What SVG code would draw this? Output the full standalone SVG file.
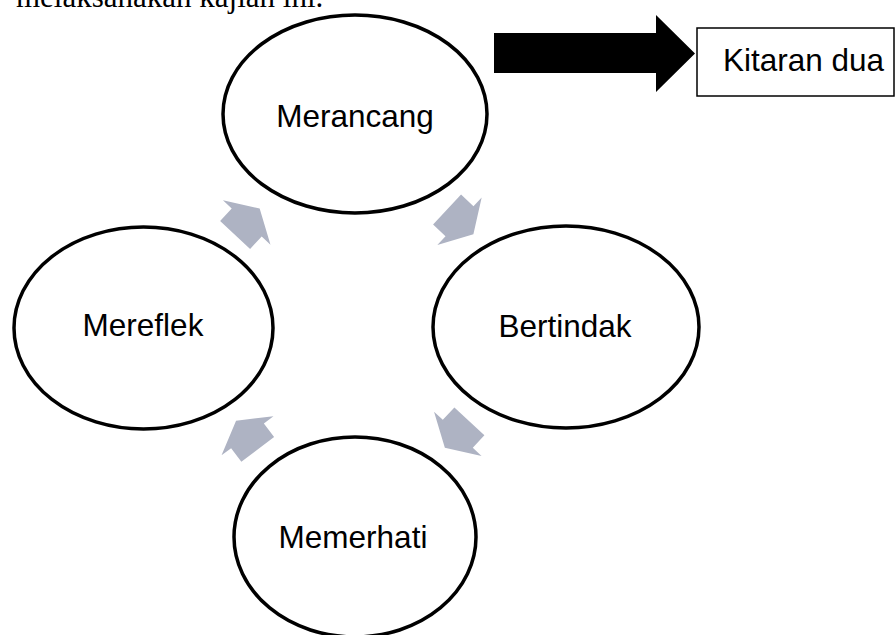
<svg xmlns="http://www.w3.org/2000/svg" width="896" height="635" viewBox="0 0 896 635">
<defs>
<style>
.node{fill:#fff;stroke:#000;stroke-width:3.5}
.lbl{font-family:"Liberation Sans",Arial,sans-serif;font-size:31.5px;fill:#000;text-anchor:middle}
.cyc{fill:#aeb3c3}
</style>
<polygon id="ca" points="-17,-20.5 0,-20.5 0,-32.5 19,0 0,32.5 0,20.5 -17,20.5"/>
</defs>
<rect width="896" height="635" fill="#fff"/>
<text x="16" y="7" font-family="'Liberation Serif','Times New Roman',serif" font-size="31" fill="#000">melaksanakan kajian ini.</text>
<g id="connectors">
<use href="#ca" class="cyc" transform="translate(246.7,222.5) rotate(-47)"/>
<use href="#ca" class="cyc" transform="translate(459.5,221.2) rotate(43)"/>
<use href="#ca" class="cyc" transform="translate(457.8,433.8) rotate(133)"/>
<use href="#ca" class="cyc" transform="translate(247.5,435.8) rotate(-127)"/>
<polygon points="494,33 656,33 656,15 695,53.5 656,92 656,73 494,73" fill="#000"/>
</g>
<g id="merancang">
<ellipse class="node" cx="355" cy="114" rx="132" ry="99"/>
<text class="lbl" x="355" y="127">Merancang</text>
</g>
<g id="bertindak">
<ellipse class="node" cx="566" cy="327" rx="133" ry="101"/>
<text class="lbl" x="565" y="337">Bertindak</text>
</g>
<g id="memerhati">
<ellipse class="node" cx="355" cy="537" rx="121" ry="100"/>
<text class="lbl" x="353" y="548">Memerhati</text>
</g>
<g id="mereflek">
<ellipse class="node" cx="143.5" cy="328" rx="129.5" ry="101"/>
<text class="lbl" x="143" y="336">Mereflek</text>
</g>
<g id="kitaran">
<rect x="697" y="28" width="197" height="68" fill="#fff" stroke="#000" stroke-width="1.5"/>
<text x="723" y="71" font-family="'Liberation Sans',Arial,sans-serif" font-size="31.5" fill="#000">Kitaran dua</text>
</g>
</svg>
